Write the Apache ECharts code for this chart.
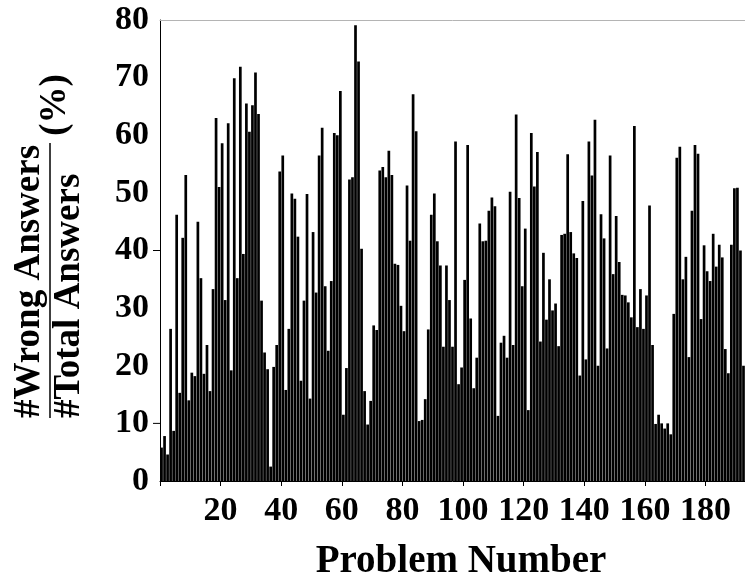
<!DOCTYPE html>
<html><head><meta charset="utf-8">
<script src="https://cdn.jsdelivr.net/npm/echarts@6/dist/echarts.min.js"></script>
<style>html,body{margin:0;padding:0;background:#fff}#c{width:745px;height:583px}</style>
</head><body><div id="c"></div>
<script>
// Percentage of wrong answers per problem (problems 1..193)
const wrongPct = [
 5.8, 7.8, 4.6, 26.4, 8.7, 46.2, 15.3, 42.2, 53.1, 14.0,
 18.8, 18.2, 45.0, 35.2, 18.6, 23.6, 15.6, 33.3, 63.0, 51.0,
 58.6, 31.4, 62.1, 19.2, 69.9, 35.2, 71.9, 39.4, 65.5, 60.6,
 65.2, 70.9, 63.7, 31.3, 22.3, 19.4, 2.5, 19.8, 23.6, 53.7,
 56.5, 15.8, 26.4, 49.9, 49.0, 42.4, 17.4, 31.3, 49.8, 14.3,
 43.2, 32.7, 56.5, 61.3, 33.8, 22.6, 34.7, 60.4, 60.0, 67.7,
 11.5, 19.6, 52.3, 52.7, 79.1, 72.8, 40.3, 15.6, 9.8, 13.9,
 27.0, 26.2, 53.9, 54.5, 52.7, 57.3, 53.1, 37.7, 37.5, 30.4,
 26.0, 51.3, 41.7, 67.1, 60.7, 10.4, 10.6, 14.2, 26.3, 46.2,
 49.9, 41.6, 37.4, 23.3, 37.4, 31.4, 23.3, 58.9, 16.8, 19.7,
 34.9, 58.3, 28.2, 16.1, 21.4, 44.7, 41.6, 41.7, 46.9, 49.2,
 47.7, 11.3, 24.0, 25.2, 21.4, 50.2, 23.6, 63.6, 49.1, 33.8,
 43.8, 12.3, 60.4, 51.1, 57.1, 24.2, 39.6, 28.0, 35.0, 29.6,
 30.8, 23.4, 42.7, 42.9, 56.7, 43.2, 39.5, 38.7, 18.3, 48.6,
 21.1, 58.9, 53.0, 62.7, 20.0, 46.3, 42.1, 23.0, 56.5, 35.9,
 46.0, 38.0, 32.3, 32.2, 31.0, 28.4, 61.6, 26.7, 33.3, 26.4,
 32.2, 47.8, 23.6, 9.9, 11.5, 10.0, 9.1, 10.0, 8.1, 29.0,
 56.1, 58.0, 35.0, 38.9, 21.5, 46.9, 58.3, 56.8, 28.1, 40.9,
 36.4, 34.7, 42.9, 37.2, 41.0, 38.8, 22.9, 18.7, 41.0, 50.8,
 50.9, 40.0, 20.0
];
const problemCount = wrongPct.length;
const xTickLabels = [20, 40, 60, 80, 100, 120, 140, 160, 180];
const yTickLabels = [0, 10, 20, 30, 40, 50, 60, 70, 80];
const yMarkedTicks = [10, 40];

const FONT = "'Liberation Serif','Times New Roman',serif";
const chart = echarts.init(document.getElementById('c'), null, {renderer: 'canvas'});

const barData = wrongPct.map((v, i) => [i + 0.5, v]);

const option = {
  animation: false,
  backgroundColor: '#fff',
  grid: {left: 160, right: 0, top: 20, bottom: 102, containLabel: false},
  xAxis: [{
    type: 'value', min: 0, max: problemCount, interval: 20,
    axisLine: {show: true, lineStyle: {color: '#000', width: 1}},
    axisTick: {show: true, length: 5, inside: false, lineStyle: {color: '#000'}},
    splitLine: {show: false},
    axisLabel: {
      show: true, margin: 13, color: '#000', fontFamily: FONT, fontWeight: 'bold', fontSize: 34,
      showMaxLabel: false,
      formatter: v => (xTickLabels.indexOf(v) >= 0 ? String(v) : '')
    }
  }, {
    type: 'value', position: 'top', min: 0, max: problemCount,
    axisLine: {show: true, lineStyle: {color: '#b4b4b4', width: 1}},
    axisTick: {show: false}, axisLabel: {show: false}, splitLine: {show: false}
  }],
  yAxis: {
    type: 'value', min: 0, max: 80, interval: 10,
    axisLine: {show: true, lineStyle: {color: '#000', width: 1}},
    axisTick: {show: false},
    splitLine: {show: false},
    axisLabel: {
      margin: 11, color: '#000', fontFamily: FONT, fontWeight: 'bold', fontSize: 34,
      formatter: v => (yTickLabels.indexOf(v) >= 0 ? String(v) : '')
    }
  },
  series: [{
    type: 'bar',
    xAxisIndex: 0,
    data: barData,
    barWidth: 2.7,
    itemStyle: {color: '#000'},
    emphasis: {disabled: true}
  }]
};
chart.setOption(option);

// small outward ticks on the value axis, placed through the axis scale
const tickGraphics = yMarkedTicks.map(v => {
  const p = chart.convertToPixel({xAxisIndex: 0, yAxisIndex: 0}, [0, v]);
  return {type: 'line', shape: {x1: p[0] - 7, y1: p[1], x2: p[0], y2: p[1]},
          style: {stroke: '#000', lineWidth: 1}, silent: true};
});

chart.setOption({
  graphic: tickGraphics.concat([
    {type: 'text', x: 29, y: 418, rotation: Math.PI / 2,
     style: {text: '#Wrong Answers', font: "bold 37px 'Liberation Serif', serif", fill: '#000',
             textAlign: 'left', textVerticalAlign: 'middle'}},
    {type: 'line', shape: {x1: 50, y1: 143, x2: 50, y2: 418}, style: {stroke: '#000', lineWidth: 1.5}},
    {type: 'text', x: 69, y: 418, rotation: Math.PI / 2,
     style: {text: '#Total Answers', font: "bold 37px 'Liberation Serif', serif", fill: '#000',
             textAlign: 'left', textVerticalAlign: 'middle'}},
    {type: 'text', x: 55, y: 105, rotation: Math.PI / 2,
     style: {text: '(%)', font: "bold 37px 'Liberation Serif', serif", fill: '#000',
             textAlign: 'center', textVerticalAlign: 'middle'}},
    {type: 'text', x: 461, y: 562,
     style: {text: 'Problem Number', font: "bold 39px 'Liberation Serif', serif", fill: '#000',
             textAlign: 'center', textVerticalAlign: 'middle'}}
  ])
});
</script>
</body></html>
